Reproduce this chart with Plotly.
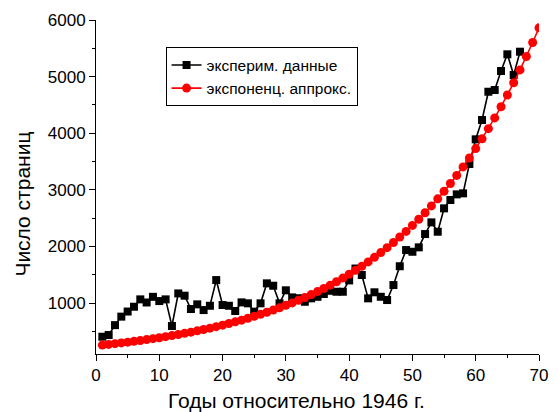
import plotly.graph_objects as go

# Experimental data (years relative to 1946, number of pages)
exp_years = list(range(1, 68))
exp_pages = [405, 435, 610, 760, 850, 935, 1065, 1010, 1110, 1035,
             1065, 595, 1170, 1130, 895, 977, 876, 952, 1406, 965,
             952, 860, 1012, 995, 848, 995, 1348, 1306, 995, 1225,
             1100, 1085, 1023, 1083, 1111, 1160, 1217, 1200, 1200, 1400,
             1610, 1495, 1083, 1190, 1111, 1053, 1318, 1650, 1936, 1906,
             1984, 2219, 2425, 2260, 2673, 2820, 2920, 2938, 3456, 3892,
             4233, 4733, 4763, 5099, 5394, 5028, 5440]

# Exponential approximation
fit_years = list(range(1, 71))
fit_pages = [258, 270, 283, 296, 309, 324, 339, 354, 371, 388,
             406, 425, 444, 465, 486, 509, 532, 557, 583, 610,
             638, 668, 698, 731, 765, 800, 837, 876, 916, 959,
             1003, 1050, 1098, 1149, 1202, 1258, 1316, 1377, 1441, 1508,
             1578, 1651, 1727, 1807, 1891, 1978, 2070, 2166, 2266, 2371,
             2481, 2596, 2716, 2841, 2973, 3111, 3255, 3405, 3563, 3728,
             3901, 4081, 4270, 4468, 4675, 4891, 5118, 5355, 5603, 5862]

x_ticks = [0, 10, 20, 30, 40, 50, 60, 70]
y_ticks = [1000, 2000, 3000, 4000, 5000, 6000]
x_title = "Годы относительно 1946 г."
y_title = "Число страниц"

FONT = "Arial, Liberation Sans, sans-serif"

fig = go.Figure()
fig.add_trace(go.Scatter(
    x=exp_years, y=exp_pages, mode="lines+markers",
    name="эксперим. данные",
    line=dict(color="black", width=1.6),
    marker=dict(symbol="square", size=8, color="black"),
))
fig.add_trace(go.Scatter(
    x=fit_years, y=fit_pages, mode="lines+markers",
    name="экспоненц. аппрокс.",
    line=dict(color="red", width=1.6),
    marker=dict(symbol="circle", size=9, color="red"),
))

fig.update_layout(
    width=559, height=412,
    margin=dict(l=96, r=11, t=20, b=58),
    paper_bgcolor="white", plot_bgcolor="white",
    font=dict(family=FONT, color="black", size=17),
    showlegend=True,
    legend=dict(
        x=0.157, y=0.918, xanchor="left", yanchor="top",
        bordercolor="black", borderwidth=1, bgcolor="white",
        font=dict(size=15.5, family=FONT),
        tracegroupgap=0, itemwidth=30,
    ),
    xaxis=dict(
        range=[0, 70], tickvals=x_ticks, ticktext=[str(v) for v in x_ticks],
        showgrid=False, zeroline=False, showline=True, linecolor="black",
        linewidth=1, ticks="outside", ticklen=6, tickcolor="black",
        minor=dict(dtick=5, tick0=0, ticks="outside", ticklen=3, tickcolor="black"),
        tickfont=dict(size=17),
    ),
    yaxis=dict(
        range=[100, 6000], tickvals=y_ticks, ticktext=[str(v) for v in y_ticks],
        showgrid=False, zeroline=False, showline=True, linecolor="black",
        linewidth=1, ticks="outside", ticklen=6, tickcolor="black",
        minor=dict(dtick=500, tick0=0, ticks="outside", ticklen=3, tickcolor="black"),
        tickfont=dict(size=17),
    ),
    annotations=[
        dict(text=x_title, xref="paper", yref="paper", x=0.4535, y=-0.138,
             xanchor="center", yanchor="middle", showarrow=False,
             font=dict(size=21, family=FONT)),
        dict(text=y_title, xref="paper", yref="paper", x=-0.168, y=0.449,
             xanchor="center", yanchor="middle", showarrow=False, textangle=-90,
             font=dict(size=21, family=FONT)),
    ],
)

fig.write_html("out.html")
